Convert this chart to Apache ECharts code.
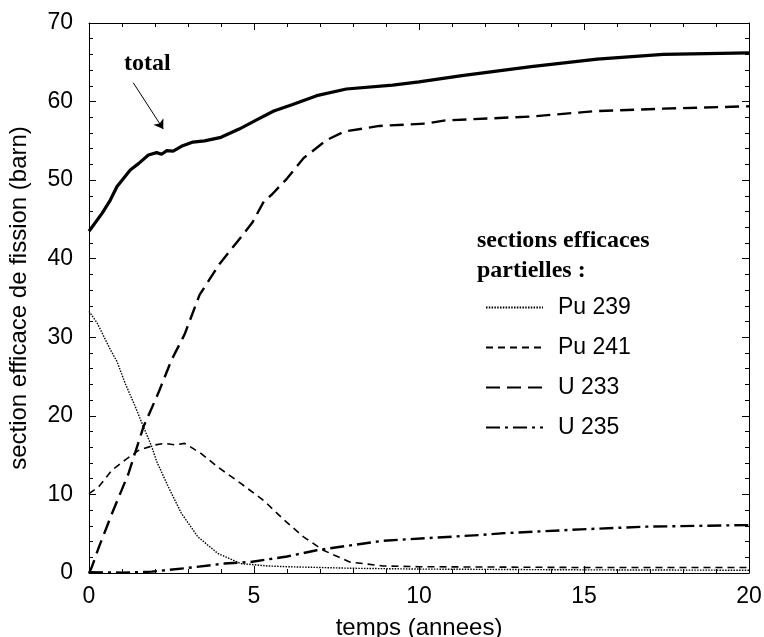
<!DOCTYPE html>
<html>
<head>
<meta charset="utf-8">
<script src="https://cdn.jsdelivr.net/npm/echarts@6/dist/echarts.min.js"></script>
<style>
  html, body { margin: 0; padding: 0; background: #fff; }
  #chart { width: 764px; height: 637px; }
</style>
</head>
<body>
<div id="chart"></div>
<script>
// courbes : [temps (annees), section efficace (barn)]
var totalPts = [[0,43.5],[0.4,45.8],[0.65,47.5],[0.85,49.2],[1.25,51.3],[1.5,52.1],[1.8,53.2],[2.05,53.5],
  [2.2,53.3],[2.35,53.75],[2.55,53.7],[2.8,54.3],[3.15,54.85],[3.5,55.0],[4.0,55.45],[4.55,56.5],[5.05,57.6],
  [5.6,58.8],[6.15,59.6],[6.9,60.75],[7.8,61.6],[9.2,62.1],[10,62.5],[11.3,63.3],[13.4,64.45],[15.4,65.4],
  [17.4,66.0],[20,66.2]];
var pu239Pts = [[0,33.3],[0.25,31.8],[0.65,28.4],[0.85,26.9],[1.1,24.1],[1.4,21.2],[1.65,18.6],[1.9,16.1],
  [2.05,14.2],[2.4,11.0],[2.8,7.6],[3.3,4.6],[3.9,2.5],[4.6,1.2],[5.4,0.9],[6,0.8],[8,0.6],[10,0.5],[15,0.4],[20,0.35]];
var pu241Pts = [[0,10.1],[0.3,11.0],[0.7,13.1],[1.1,14.4],[1.5,15.6],[2.0,16.3],[2.3,16.5],[2.6,16.3],[2.9,16.5],
  [3.4,15.2],[3.9,13.5],[4.6,11.4],[5.3,9.2],[5.9,6.8],[6.5,4.6],[7.1,2.9],[7.9,1.4],[8.9,0.9],[10,0.8],[15,0.7],[20,0.7]];
var u233Pts = [[0,0],[0.09,0.8],[0.3,3.3],[0.7,7.6],[1.2,12.7],[1.65,18.6],[2.1,22.9],[2.5,27.1],[2.9,30.4],
  [3.35,35.4],[3.95,39.3],[4.5,42.2],[4.95,44.6],[5.3,47.3],[5.55,48.2],[6.0,50.2],[6.5,52.8],[7.2,55.1],
  [7.75,56.2],[8.8,56.9],[10.2,57.2],[10.8,57.6],[13.4,58.1],[15.4,58.8],[17.4,59.1],[20,59.4]];
var u235Pts = [[0,0.1],[1,0.05],[1.9,0.17],[2.9,0.6],[4.1,1.2],[4.9,1.4],[6.0,2.1],[6.9,2.9],[8.9,4.1],
  [11.9,4.85],[12.5,5.05],[14.9,5.55],[16.9,5.9],[20,6.1]];

var legendNames = ['Pu 239', 'Pu 241', 'U 233', 'U 235'];
var arrowFrom = [1.34, 62.4];
var arrowTo = [2.25, 56.5];

var sans = 'Liberation Sans';
var serif = 'Liberation Serif';

function axisBase(pos, isX) {
  return {
    type: 'value',
    position: pos,
    min: 0,
    max: isX ? 20 : 70,
    interval: isX ? 5 : 10,
    axisLine: { show: true, onZero: false, lineStyle: { color: '#000', width: 1 } },
    axisTick: { show: true, inside: true, length: 7, lineStyle: { color: '#000' } },
    minorTick: { show: true, splitNumber: 5, length: 4, lineStyle: { color: '#000' } },
    splitLine: { show: false },
    axisLabel: { show: false }
  };
}

var xBottom = axisBase('bottom', true);
xBottom.axisLabel = { show: true, color: '#000', fontFamily: sans, fontSize: 23, margin: 12 };
xBottom.name = 'temps (annees)';
xBottom.nameLocation = 'middle';
xBottom.nameGap = 43;
xBottom.nameTextStyle = { color: '#000', fontFamily: sans, fontSize: 24 };

var yLeft = axisBase('left', false);
yLeft.axisLabel = { show: true, color: '#000', fontFamily: sans, fontSize: 23, margin: 16 };
yLeft.name = 'section efficace de fission (barn)';
yLeft.nameLocation = 'middle';
yLeft.nameGap = 58;
yLeft.nameTextStyle = { color: '#000', fontFamily: sans, fontSize: 24 };

var xTop = axisBase('top', true);
var yRight = axisBase('right', false);

function lineSeries(name, pts, width, dash) {
  return {
    name: name,
    type: 'line',
    data: pts,
    symbol: 'none',
    smooth: false,
    lineStyle: { color: '#000', width: width, type: dash },
    itemStyle: { color: '#000' }
  };
}

var myChart = echarts.init(document.getElementById('chart'));
var option = {
  animation: false,
  backgroundColor: '#fff',
  grid: { left: 89, right: 15, top: 23, bottom: 64, containLabel: false, outerBoundsMode: 'none' },
  xAxis: [xBottom, xTop],
  yAxis: [yLeft, yRight],
  title: {
    text: 'sections efficaces\npartielles :',
    left: 477,
    top: 226,
    padding: 0,
    textStyle: { fontFamily: serif, fontWeight: 'bold', fontSize: 24, lineHeight: 30, color: '#000' }
  },
  legend: {
    data: legendNames,
    orient: 'vertical',
    left: 485,
    top: 296,
    padding: 0,
    itemWidth: 57,
    itemHeight: 14,
    itemGap: 17,
    itemStyle: { opacity: 0 },
    textStyle: { fontFamily: sans, fontSize: 23, color: '#000', padding: [0, 0, 0, 10] }
  },
  graphic: [{
    type: 'text',
    left: 124,
    top: 52,
    style: { text: 'total', fontFamily: serif, fontWeight: 'bold', fontSize: 24, fill: '#000' }
  }],
  series: [
    (function () {
      var s = lineSeries('total', totalPts, 3.2, 'solid');
      s.markLine = {
        silent: true,
        symbol: ['none', 'arrow'],
        symbolSize: 9,
        label: { show: false },
        lineStyle: { color: '#000', width: 1, type: 'solid' },
        data: [[{ coord: arrowFrom }, { coord: arrowTo }]]
      };
      return s;
    })(),
    lineSeries('Pu 239', pu239Pts, 1.4, [1.5, 1.3]),
    lineSeries('Pu 241', pu241Pts, 1.6, [7, 5]),
    lineSeries('U 233', u233Pts, 2.4, [14, 7]),
    lineSeries('U 235', u235Pts, 2.4, [14, 5, 3, 5])
  ]
};
myChart.setOption(option);
</script>
</body>
</html>
